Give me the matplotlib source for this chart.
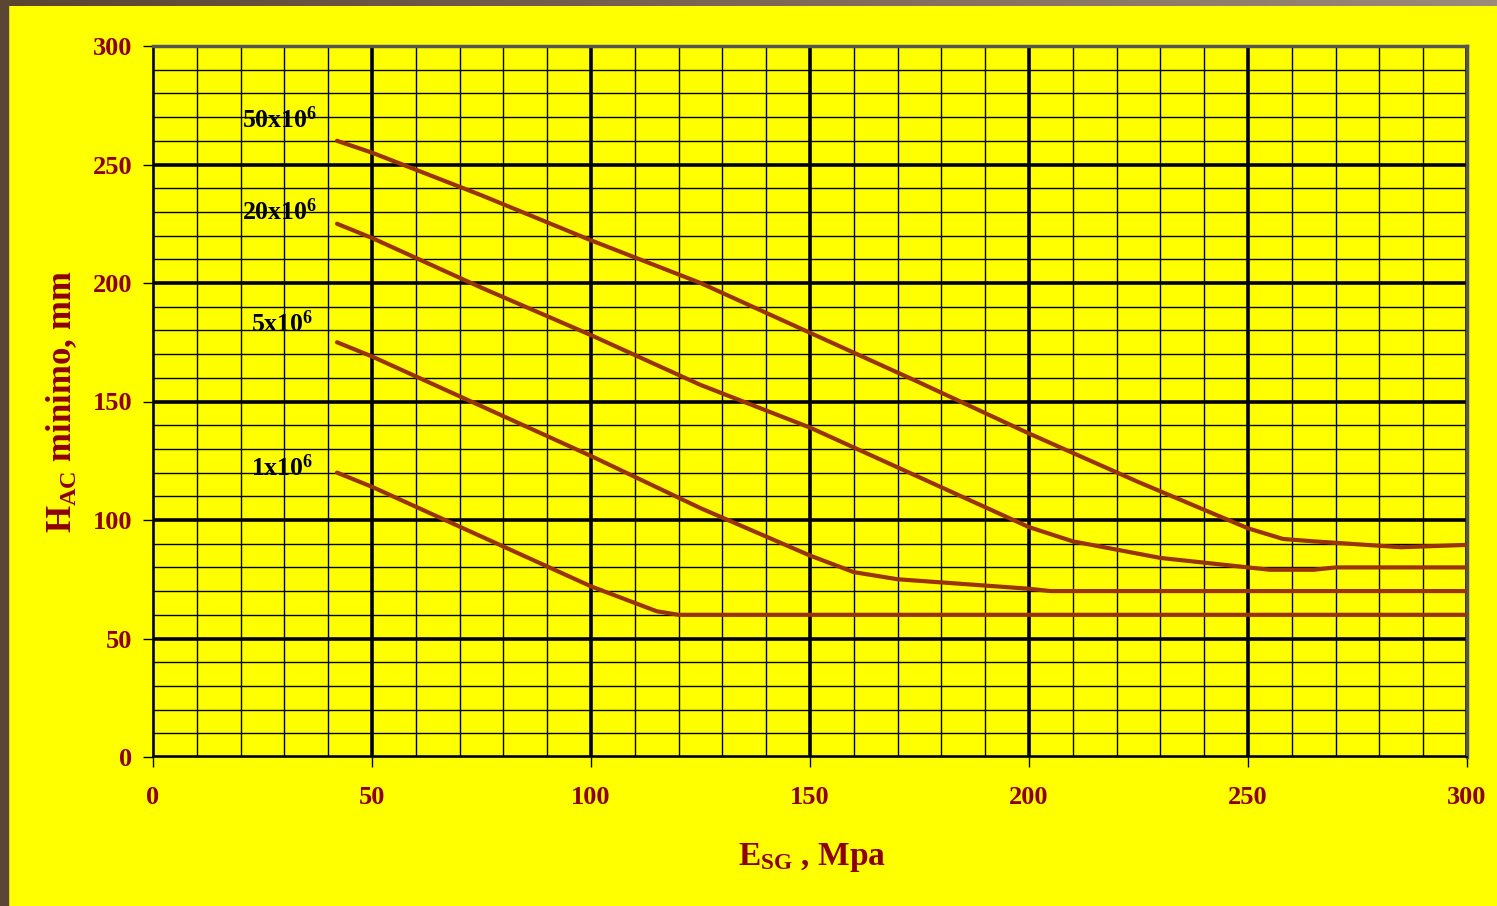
import numpy as np
import matplotlib.pyplot as plt
from matplotlib.patches import Rectangle

plt.rcParams['font.family'] = 'Liberation Serif'
plt.rcParams['font.weight'] = 'bold'
plt.rcParams['mathtext.fontset'] = 'custom'
plt.rcParams['mathtext.rm'] = 'Liberation Serif:bold'
plt.rcParams['mathtext.it'] = 'Liberation Serif:bold'

# minimum asphalt thickness vs subgrade modulus, one curve per traffic level
esg_50 = [42, 50, 75, 100, 125, 150, 175, 200, 225, 250, 258, 265, 285, 300]
hac_50 = [260, 255, 237, 218, 200, 179, 158, 136.5, 116, 96.5, 92, 91, 88.5, 89.5]
esg_20 = [42, 50, 75, 100, 125, 150, 175, 200, 210, 230, 250, 255, 265, 270, 300]
hac_20 = [225, 219, 198, 178, 157, 139, 118, 97, 91, 84, 80, 79, 79, 80, 80]
esg_5 = [42, 50, 75, 100, 125, 150, 160, 170, 200, 205, 300]
hac_5 = [175, 169, 148, 127, 105, 85, 78, 75, 71, 70, 70]
esg_1 = [42, 50, 75, 100, 110, 115, 120, 300]
hac_1 = [120, 114, 93, 72, 65, 61.5, 60, 60]

curves = [(esg_50, hac_50), (esg_20, hac_20), (esg_5, hac_5), (esg_1, hac_1)]
labels = ['50x10$^{6}$', '20x10$^{6}$', '5x10$^{6}$', '1x10$^{6}$']
label_pos = [(29, 269), (29, 230), (29.5, 183), (29.5, 122)]

red = '#8B0000'
fig = plt.figure(figsize=(14.97, 9.06), dpi=100)
fig.patch.set_facecolor('#FFFF00')

# frame strips along the top and left edge
top = fig.add_axes([0, 1 - 6 / 906, 1, 6 / 906])
top.imshow(np.linspace(0, 1, 256)[None, :], aspect='auto',
           cmap=plt.matplotlib.colors.LinearSegmentedColormap.from_list('b', ['#5a4530', '#9c8a7a']))
top.axis('off')
fig.patches.append(Rectangle((0, 0), 8 / 1497, 1, transform=fig.transFigure,
                             color='#5a4632', zorder=5))

ax = fig.add_axes([153 / 1497, 149 / 906, 1314 / 1497, 711 / 906])
ax.set_facecolor('#FFFF00')
ax.set_xlim(0, 300)
ax.set_ylim(0, 300)
ax.set_xticks(np.arange(0, 301, 50))
ax.set_yticks(np.arange(0, 301, 50))
ax.set_xticks(np.arange(0, 301, 10), minor=True)
ax.set_yticks(np.arange(0, 301, 10), minor=True)
ax.grid(which='minor', color='black', lw=1.0)
ax.grid(which='major', color='black', lw=2.6)
ax.set_axisbelow(True)
ax.tick_params(which='minor', length=0)
ax.tick_params(which='major', length=7, width=1, direction='out', colors='black',
               labelcolor=red, labelsize=19, pad=8)
for lab in ax.get_xticklabels() + ax.get_yticklabels():
    lab.set_fontweight('bold')
ax.tick_params(axis='x', pad=14)

for side in ['top', 'right']:
    ax.spines[side].set_color('#555555')
    ax.spines[side].set_linewidth(2.5)
for side in ['left', 'bottom']:
    ax.spines[side].set_color('black')
    ax.spines[side].set_linewidth(1.2)

for (x, y), lab, (lx, ly) in zip(curves, labels, label_pos):
    ax.plot(x, y, color='#993300', lw=3, solid_capstyle='round', zorder=3)
    ax.text(lx, ly, lab, ha='center', va='center', fontsize=18.5, color='black',
            fontweight='bold')

fig.text(812 / 1497, 1 - 857 / 906, 'E$_{\\mathrm{SG}}$ , Mpa', ha='center', va='center',
         fontsize=24, color=red, fontweight='bold')
fig.text(62 / 1497, 1 - 402 / 906, 'H$_{\\mathrm{AC}}$ minimo, mm', ha='center', va='center',
         rotation=90, fontsize=25, color=red, fontweight='bold')

fig.savefig('out.png', dpi=100, facecolor=fig.get_facecolor())
